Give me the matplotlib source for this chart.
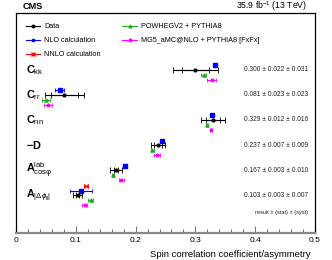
import matplotlib
matplotlib.use("Agg")
import matplotlib.pyplot as plt
from matplotlib.lines import Line2D
import numpy as np

plt.rcParams['font.family'] = ['Liberation Sans', 'DejaVu Sans']
plt.rcParams['mathtext.fontset'] = 'custom'
plt.rcParams['mathtext.rm'] = 'Liberation Sans'
plt.rcParams['mathtext.it'] = 'Liberation Sans:italic'
plt.rcParams['mathtext.bf'] = 'Liberation Sans:bold'

# ---- data ----
labels = [r'$\mathbf{C}_{\mathrm{kk}}$', r'$\mathbf{C}_{\mathrm{rr}}$', r'$\mathbf{C}_{\mathrm{nn}}$',
          r'$\mathbf{-D}$', r'$\mathbf{A}^{\mathrm{lab}}_{\mathrm{cos\varphi}}$',
          r'$\mathbf{A}_{|\Delta\phi_{\mathrm{ll}}|}$']
data_val = [0.300, 0.081, 0.329, 0.237, 0.167, 0.103]
data_stat = [0.022, 0.023, 0.012, 0.007, 0.003, 0.003]
data_syst = [0.031, 0.023, 0.016, 0.009, 0.010, 0.007]
result_text = ["0.300 ± 0.022 ± 0.031", "0.081 ± 0.023 ± 0.023", "0.329 ± 0.012 ± 0.016",
               "0.237 ± 0.007 ± 0.009", "0.167 ± 0.003 ± 0.010", "0.103 ± 0.003 ± 0.007"]

nlo_val = [0.333, 0.073, 0.328, 0.244, 0.183, 0.109]
nlo_err = [0.002, 0.007, 0.002, 0.002, 0.002, 0.018]
nnlo_rows = [5]
nnlo_val = [0.117]
nnlo_err = [0.004]
powheg_val = [0.314, 0.050, 0.319, 0.228, 0.162, 0.125]
powheg_err = [0.004, 0.007, 0.002, 0.002, 0.002, 0.004]
mg5_val = [0.327, 0.054, 0.326, 0.235, 0.176, 0.115]
mg5_err = [0.008, 0.007, 0.002, 0.005, 0.004, 0.004]

xticks = [0, 0.1, 0.2, 0.3, 0.4, 0.5]
xticklabels = ['0', '0.1', '0.2', '0.3', '0.4', '0.5']

# ---- figure ----
fig = plt.figure(figsize=(3.32, 2.60), dpi=100)
ax = fig.add_axes([16/332, 1-233/260, (315-16)/332, (233-12.7)/260])

rows = np.arange(len(labels))
ypos = -rows.astype(float)

tot = np.sqrt(np.array(data_stat)**2 + np.array(data_syst)**2)
ax.errorbar(data_val, ypos, xerr=tot, fmt='o', color='black', ms=2.0, lw=0.8,
            capsize=2, capthick=0.6, zorder=5)
ax.errorbar(data_val, ypos, xerr=data_stat, fmt='none', ecolor='black', lw=0.8,
            capsize=2, capthick=0.6, zorder=5)

ax.errorbar(nlo_val, ypos + 0.18, xerr=nlo_err, fmt='s', color='#0000ff', ms=2.3, lw=0.8,
            capsize=1.5, capthick=0.6)
ax.errorbar(nnlo_val, -np.array(nnlo_rows, float) + 0.36, xerr=nnlo_err, fmt='x', color='#ff0000',
            ms=2.3, lw=0.8, mew=0.7, capsize=1.5, capthick=0.6)
ax.errorbar(powheg_val, ypos - 0.2, xerr=powheg_err, fmt='^', color='#22aa22', ms=2.3, lw=0.8,
            capsize=1.5, capthick=0.6)
ax.errorbar(mg5_val, ypos - 0.4, xerr=mg5_err, fmt='*', color='#ff00ff', ms=2.6, lw=0.8,
            capsize=1.5, capthick=0.6)

for y, lab, rt in zip(ypos, labels, result_text):
    ax.text(0.017, y, lab, ha='left', va='center', fontsize=7.8)
    ax.text(0.4885, y, rt, ha='right', va='center', fontsize=4.8, color='#222222')
ax.text(0.4885, -5.68, "result ± (stat) ± (syst)", ha='right', va='center', fontsize=4.1,
        color='#222222')

ax.set_xlim(0, 0.5)
ax.set_ylim(-6.5, 2.27)
ax.set_yticks([])
ax.set_xticks(xticks)
ax.set_xticklabels(xticklabels, fontsize=6)
ax.set_xticks(np.arange(0, 0.5001, 0.02), minor=True)
ax.tick_params(axis='x', which='major', direction='in', length=5, width=0.8, color='#777777', pad=3)
ax.tick_params(axis='x', which='minor', direction='in', length=2.8, width=0.8, color='#777777')
ax.spines['bottom'].set_color('#888888')
ax.spines['bottom'].set_linewidth(1.6)
for s in ['left', 'right', 'top']:
    ax.spines[s].set_linewidth(0.9)
    ax.spines[s].set_color('black')

ax.set_xlabel("Spin correlation coefficient/asymmetry", fontsize=6.8, labelpad=2)
ax.xaxis.set_label_coords(0.9835, -0.075)
ax.xaxis.label.set_ha('right')

handles = [
    Line2D([], [], color='black', marker='o', ms=1.8, lw=0.8),
    Line2D([], [], color='#0000ff', marker='s', ms=2.0, lw=0.8),
    Line2D([], [], color='#ff0000', marker='x', ms=2.2, lw=0.8),
    Line2D([], [], color='#22aa22', marker='^', ms=2.0, lw=0.8),
    Line2D([], [], color='#ff00ff', marker='*', ms=2.6, lw=0.8),
]
leg_labels = ["Data", "NLO calculation", "NNLO calculation", "POWHEGV2 + PYTHIA8",
              "MG5_aMC@NLO + PYTHIA8 [FxFx]"]
ax.legend(handles, leg_labels, loc='upper left', bbox_to_anchor=(0.015, 0.975), ncol=2,
          frameon=False, fontsize=5.2, handlelength=2.0, handletextpad=0.6,
          columnspacing=3.0, labelspacing=0.95, borderaxespad=0.3)

fig.text(23/332, 1-9/260, "CMS", fontsize=6.6, fontweight='bold', ha='left', va='baseline')
fig.text(307/332, 1-9/260, r"35.9 fb$^{\mathrm{-1}}$ (13 TeV)", fontsize=6.2, ha='right', va='baseline')

fig.savefig("out.png", dpi=100)
